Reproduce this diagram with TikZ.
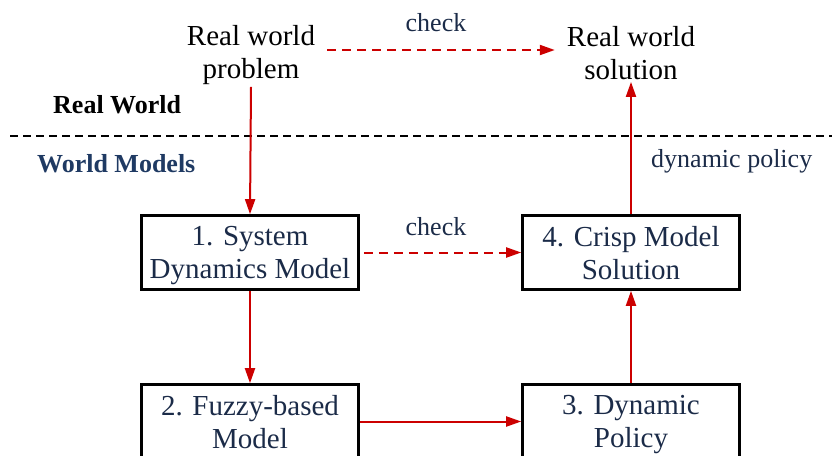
\documentclass[tikz,border=0pt]{standalone}
\usepackage{fontspec}
\setmainfont{Liberation Serif}
\usetikzlibrary{arrows.meta}
\definecolor{navy}{HTML}{1B2B48}
\definecolor{wmblue}{HTML}{1F3A63}
\definecolor{arrred}{HTML}{CC0000}
\begin{document}
\begin{tikzpicture}[x=1pt,y=-1pt,
  box/.style={draw=black,line width=2.6pt,minimum width=217pt,minimum height=74pt,inner sep=0pt,text depth=0pt,align=center,text=navy,font=\fontsize{29}{33}\selectfont},
  big/.style={align=center,font=\fontsize{29}{33}\selectfont,inner xsep=12pt,inner ysep=2pt},
  small/.style={font=\fontsize{26}{30}\selectfont,text=navy,inner sep=0pt},
  lbl/.style={font=\fontsize{26}{30}\selectfont\bfseries,inner sep=0pt,anchor=base west},
  conn/.style={draw=arrred,line width=2pt,-{Triangle[length=15pt,width=10pt]}},
  dconn/.style={conn,dash pattern=on 9pt off 6pt}]
\useasboundingbox (0,0) rectangle (832,455);
\clip (0,0) rectangle (832,455);
% separator
\coordinate (sepL) at (10,136);
\coordinate (sepR) at (832,136);
\draw[black,line width=1.5pt,dash pattern=on 8pt off 5pt] (sepL) -- (sepR);
\node[lbl] (rw) at (53,113) {Real World};
\node[lbl,text=wmblue] (wm) at (37,172) {World Models};
% real world nodes
\node[big] (prob) at (251,55) {Real world\\problem};
\node[big] (sol) at (631,53) {Real world\\solution};
% boxes
\node[box] (b1) at (250,252.5) {1. System\\Dynamics Model};
\node[box] (b4) at (631,252.5) {4. Crisp Model\\Solution};
\node[box] (b2) at (250,421.5) {2. Fuzzy-based\\Model};
\node[box] (b3) at (631,421.5) {3. Dynamic\\Policy};
% labels
\node[small,anchor=base] (chk1) at (436,31) {check};
\node[small,anchor=base] (chk2) at (436,235) {check};
\node[small,anchor=base west] (dp) at (651,167) {dynamic policy};
% connectors
\coordinate (cy) at (0,50);
\draw[dconn] (prob.east |- cy) -- (sol.west |- cy);
\draw[conn] (prob.south) -- (b1.north);
\draw[dconn] ([xshift=4pt]b1.east) -- (b4.west);
\draw[conn] (b1) -- (b2);
\draw[conn] (b2) -- (b3);
\draw[conn] (b3) -- (b4);
\draw[conn] (b4.north) -- (sol.south);
\end{tikzpicture}
\end{document}
